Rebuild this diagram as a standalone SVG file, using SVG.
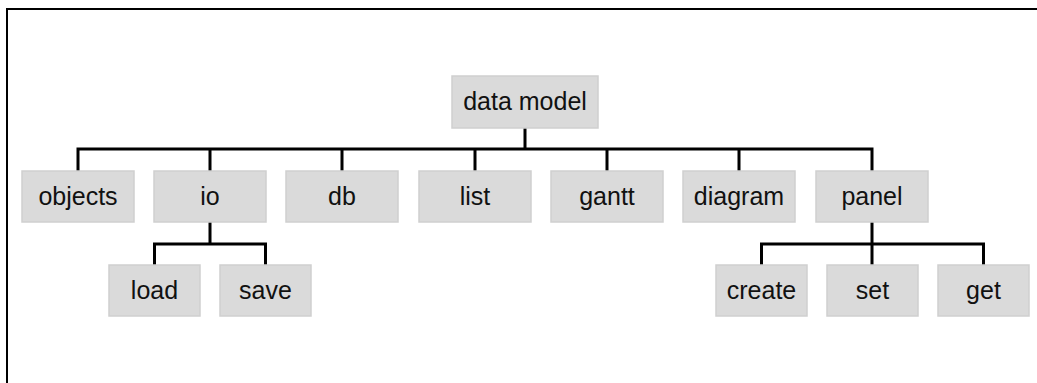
<svg xmlns="http://www.w3.org/2000/svg" width="1037" height="383" viewBox="0 0 1037 383">
<style>
.box{fill:#dadada;stroke:#cfcfcf;stroke-width:1.5}
.lbl{font-family:"Liberation Sans",Arial,sans-serif;font-size:25px;fill:#111;text-anchor:middle}
.con{fill:none;stroke:#000;stroke-width:3}
</style>
<rect x="0" y="0" width="1037" height="383" fill="#fff"/>
<rect x="7" y="9" width="1045" height="390" fill="none" stroke="#000" stroke-width="2"/>
<g id="connectors" class="con">
<path d="M525 128V149M78 171V149H872V171M210 149V171M342 149V171M475 149V171M607 149V171M739 149V171"/>
<path d="M210 222V244M154.5 265V244H265.5V265"/>
<path d="M872 222V265M761.5 265V244H983.5V265"/>
</g>
<g id="n-datamodel"><rect class="box" x="452" y="76" width="146" height="52"/><text class="lbl" x="525" y="110">data model</text></g>
<g id="n-objects"><rect class="box" x="22" y="171" width="112" height="51"/><text class="lbl" x="78" y="205">objects</text></g>
<g id="n-io"><rect class="box" x="154" y="171" width="112" height="51"/><text class="lbl" x="210" y="205">io</text></g>
<g id="n-db"><rect class="box" x="286" y="171" width="112" height="51"/><text class="lbl" x="342" y="205">db</text></g>
<g id="n-list"><rect class="box" x="419" y="171" width="112" height="51"/><text class="lbl" x="475" y="205">list</text></g>
<g id="n-gantt"><rect class="box" x="551" y="171" width="112" height="51"/><text class="lbl" x="607" y="205">gantt</text></g>
<g id="n-diagram"><rect class="box" x="683" y="171" width="112" height="51"/><text class="lbl" x="739" y="205">diagram</text></g>
<g id="n-panel"><rect class="box" x="816" y="171" width="112" height="51"/><text class="lbl" x="872" y="205">panel</text></g>
<g id="n-load"><rect class="box" x="109" y="265" width="91" height="51"/><text class="lbl" x="154.5" y="299">load</text></g>
<g id="n-save"><rect class="box" x="220" y="265" width="91" height="51"/><text class="lbl" x="265.5" y="299">save</text></g>
<g id="n-create"><rect class="box" x="716" y="265" width="91" height="51"/><text class="lbl" x="761.5" y="299">create</text></g>
<g id="n-set"><rect class="box" x="827" y="265" width="91" height="51"/><text class="lbl" x="872.5" y="299">set</text></g>
<g id="n-get"><rect class="box" x="938" y="265" width="91" height="51"/><text class="lbl" x="983.5" y="299">get</text></g>
</svg>
